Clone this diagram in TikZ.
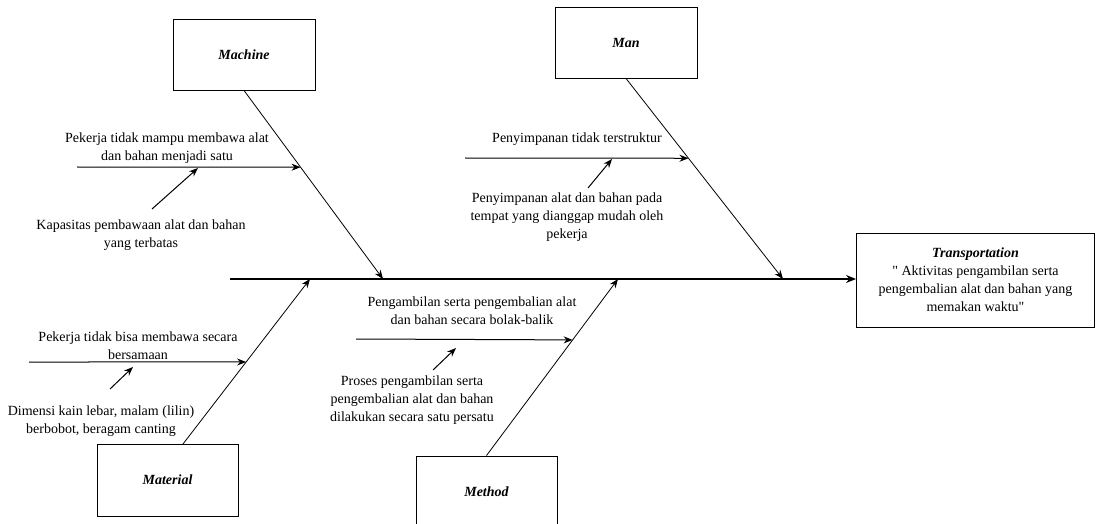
\documentclass[tikz,border=0pt]{standalone}
\usepackage{fontspec}
\setmainfont{Liberation Serif}
\usetikzlibrary{arrows.meta,calc}
\begin{document}
\begin{tikzpicture}[x=1pt,y=-1pt,
  every node/.style={font=\fontsize{14}{18}\selectfont},
  catbox/.style={draw,line width=0.9pt,minimum width=142pt,minimum height=71pt,inner sep=0pt,font=\fontsize{14}{18}\selectfont\bfseries\itshape},
  note/.style={align=center,inner sep=0pt},
  bone/.style={line width=0.8pt,-{Stealth[length=9pt,width=7pt]}},
  sub/.style={line width=1pt,-{Stealth[length=9pt,width=7pt]}},
  hint/.style={line width=1pt,-{Stealth[length=9pt,width=7pt]}},
  spine/.style={line width=1.6pt,-{Stealth[length=10pt,width=8pt]}}]
\useasboundingbox (0,0) rectangle (1096,524);

% effect box
\node[draw,line width=1pt,minimum width=238pt,minimum height=94pt,inner sep=0pt,align=center] (eff) at (975.5,280)
  {\textbf{\textit{Transportation}}\\\textquotedbl{} Aktivitas pengambilan serta\\pengembalian alat dan bahan yang\\memakan waktu\textquotedbl};

% category boxes
\node[catbox] (machine) at (244,54.5) {Machine};
\node[catbox] (man) at (626,42.5) {Man};
\node[catbox,minimum width=141pt,minimum height=72pt] (material) at (167.5,480) {Material};
\node[catbox,minimum width=141pt,minimum height=72pt] (method) at (486.5,492) {Method};

% spine
\coordinate (tail) at (230,279);
\draw[spine] (tail) -- (eff.west |- tail);

% bone ends on the spine
\coordinate (mJ) at (383,279);
\coordinate (nJ) at (783,279);
\coordinate (tJ) at (310,279);
\coordinate (dJ) at (618,279);
\coordinate (tS) at (183,444);

\draw[bone] (machine.south) -- (mJ);
\draw[bone] (man.south) -- (nJ);
\draw[bone] (tS) -- (tJ);
\draw[bone] (method.north) -- (dJ);

% sub-cause arrows
\coordinate (m1) at (77,167);
\coordinate (m1e) at ($(machine.south)!0.407!(mJ)$);
\draw[sub] (m1) -- (m1e);
\coordinate (n1) at (465,158);
\coordinate (n1e) at ($(man.south)!0.398!(nJ)$);
\draw[sub] (n1) -- (n1e);
\coordinate (t1) at (29,362);
\coordinate (t1e) at ($(tS)!0.497!(tJ)$);
\draw[sub] (t1) -- (t1e);
\coordinate (d1) at (356,339);
\coordinate (d1e) at ($(method.north)!0.655!(dJ)$);
\draw[sub] (d1) -- (d1e);

% labels
\node[note] (mA) at (167,148) {Pekerja tidak mampu membawa alat\\dan bahan menjadi satu};
\node[note] (mB) at (141,235) {Kapasitas pembawaan alat dan bahan\\yang terbatas};
\node[note] (nA) at (577,139) {Penyimpanan tidak terstruktur};
\node[note] (nB) at (567,217) {Penyimpanan alat dan bahan pada\\tempat yang dianggap mudah oleh\\pekerja};
\node[note] (tA) at (138,346) {Pekerja tidak bisa membawa secara\\bersamaan};
\node[note] (tB) at (101,421) {Dimensi kain lebar, malam (lilin)\\berbobot, beragam canting};
\node[note] (dA) at (472,311) {Pengambilan serta pengembalian alat\\dan bahan secara bolak-balik};
\node[note] (dB) at (412,400) {Proses pengambilan serta\\pengembalian alat dan bahan\\dilakukan secara satu persatu};

% secondary-cause arrows
\coordinate (mh) at (152,209);
\coordinate (mht) at (198,168);
\draw[hint] (mh) -- (mht);
\coordinate (nh) at (588,188);
\coordinate (nht) at (612,159);
\draw[hint] (nh) -- (nht);
\coordinate (th) at (110,389);
\coordinate (tht) at (133,367);
\draw[hint] (th) -- (tht);
\coordinate (dh) at (433,370);
\coordinate (dht) at (456,348);
\draw[hint] (dh) -- (dht);
\end{tikzpicture}
\end{document}
